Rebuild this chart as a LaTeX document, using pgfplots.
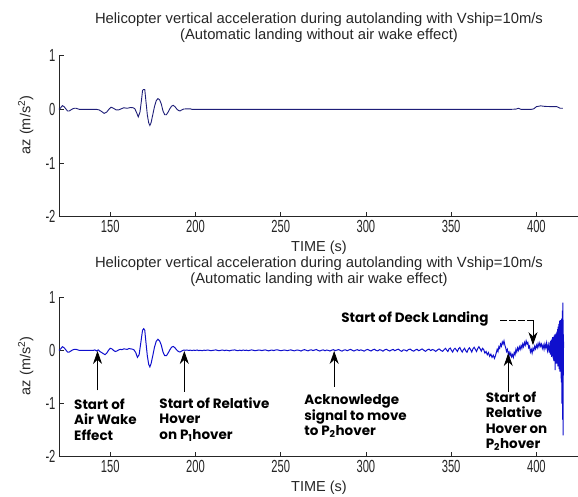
\documentclass[border=0pt]{standalone}
\usepackage{fontspec}
\setmainfont{Liberation Sans}
\newfontfamily\annfont{Poppins}
\usepackage{graphicx}
\usepackage{pgfplots}
\pgfplotsset{compat=1.18}
\usetikzlibrary{arrows.meta}

\definecolor{topblue}{RGB}{30,30,120}
\definecolor{botblue}{RGB}{15,15,205}

\pgfplotsset{
 myaxis/.style={
  scale only axis, width=520pt, xmin=120, xmax=425, ymin=-2, ymax=1,
  axis x line=bottom, axis y line=left,
  axis line style={-, line width=0.7pt, black!85},
  tick align=inside, major tick length=5pt, tick style={black!85, line width=0.7pt},
  xtick={150,200,...,400}, ytick={-2,-1,0,1},
  /pgf/number format/assume math mode=true,
  ticklabel style={font=\fontsize{17.5}{17.5}\selectfont, black!85},
  xticklabel={\scalebox{0.64}[1]{\pgfmathprintnumber{\tick}}},
  yticklabel={\scalebox{0.64}[1]{\pgfmathprintnumber{\tick}}},
  xlabel={TIME (s)}, ylabel={az (m/s\textsuperscript{2})},
  every axis x label/.style={at={(axis description cs:0.5,0)},anchor=center,yshift=-31pt,font=\fontsize{14.5}{14.5}\selectfont, black!85},
  every axis y label/.style={at={(axis description cs:-0.064,0.57)},anchor=center,rotate=90,font=\fontsize{14.5}{14.5}\selectfont, black!85},
  title style={font=\fontsize{14.8}{16}\selectfont, align=center, at={(axis description cs:0.5,1)}, anchor=center, black!85},
  clip=false,
 },
}
\tikzset{
 ann/.style={font=\annfont\bfseries\fontsize{13.5}{15.5}\selectfont, align=left, anchor=north west, inner sep=0pt},
 arr/.style={line width=0.8pt, -{Stealth[length=13pt,width=9pt]}},
}

\begin{document}
\begin{tikzpicture}
\useasboundingbox (0,0) rectangle (578pt,497pt);

% ---------------- top axis ----------------
\begin{axis}[myaxis, at={(59pt,280.3pt)}, anchor=south west, height=161pt,
  title={Helicopter vertical acceleration during autolanding with Vship=10m/s\\(Automatic landing without air wake effect)},
  title style={yshift=21.7pt}]
\addplot[topblue, line width=0.9pt] coordinates {
(120,0) (121,0.03) (122,0.07) (123,0.05) (124,0.01) (125,-0.03) (126,-0.03) (127,-0.01)
(128,0.01) (129,0.02) (130,0.02) (131,0.01) (132,0) (134,0) (136,0) (140,0) (142,0)
(143.5,-0.01) (145,-0.04) (146.5,-0.075) (148,-0.05) (149.5,0.01) (150.5,0.04) (152,0.02)
(153.5,-0.01) (155,-0.01) (156.5,0.01) (158,0.03) (160,0.02) (162,0.035) (163.5,0.03)
(164.5,0.01) (165.5,-0.06) (166.5,-0.14) (167.5,-0.05) (168.3,0.15) (169,0.35) (169.6,0.37)
(170.3,0.37) (171,0.15) (171.8,-0.1) (172.6,-0.25) (173.3,-0.3) (174,-0.25) (175,-0.1)
(176,0.05) (177,0.16) (178,0.2) (179,0.18) (180,0.1) (181,-0.03) (182,-0.1) (183,-0.1)
(184,-0.05) (185,0.01) (186,0.06) (187,0.075) (188,0.05) (189,0.01) (190,-0.02) (191,-0.03)
(192,-0.01) (193,0.005) (195,0.01) (197,0.01) (198,0) (200,0) (385,0) (388,0.005)
(389.5,0.02) (391,0) (397,0) (398.5,0.01) (400,0.05) (402.5,0.065) (405,0.055) (410,0.05)
(412,0.05) (414,0.02) (415.5,0.02)
};
\end{axis}

% ---------------- bottom axis ----------------
\begin{axis}[myaxis, at={(59pt,40.3pt)}, anchor=south west, height=159.4pt,
  title={Helicopter vertical acceleration during autolanding with Vship=10m/s\\(Automatic landing with air wake effect)},
  title style={yshift=19.5pt}]
\addplot[botblue, line width=1pt] coordinates {
(120,0) (121,0.03) (122,0.07) (123,0.05) (124,0.01) (125,-0.03) (126,-0.03) (127,-0.01)
(128,0.01) (129,0.02) (130,0.02) (131,0.01) (132,0) (134,0) (136,0) (138,0) (140,0)
(141,0.01) (142,-0.01) (143,0.01) (144,-0.02) (145,-0.04) (146,-0.06) (147,-0.08) (148,-0.05)
(149,0.0) (150,0.04) (151,0.03) (152,0.0) (153,-0.02) (154,-0.01) (155,0.01) (156,0.02)
(157,0.015) (158,0.03) (159,0.025) (160,0.02) (161,0.035) (162,0.03) (163,0.025) (164,0.01)
(165,-0.04) (166,-0.13) (167,-0.08) (168,0.15) (169,0.38) (169.7,0.41) (170.3,0.38) (171,0.15)
(171.8,-0.1) (172.6,-0.26) (173.3,-0.31) (174,-0.25) (175,-0.1) (176,0.06) (177,0.17)
(178,0.21) (179,0.18) (180,0.1) (181,-0.03) (182,-0.1) (183,-0.1) (184,-0.05) (185,0.01)
(186,0.06) (187,0.075) (188,0.05) (189,0.01) (190,-0.02) (191,-0.03) (192,-0.01) (193,0.005)
(194,0.003) (195,0.008) (196,0) (197,0.005) (198,-0.003) (199,0.005) (200,0) (201,0.008)
(202,-0.003) (203,0.003) (204,-0.005) (205,0.005) (206,0) (207,0.008) (208,0.003) (209,-0.005)
(210,0) (211,0.005) (212,0.01) (213,0) (214,-0.005) (215,0.003) (216,0.008) (217,-0.003)
(218,0.005) (219,0) (220,-0.008) (221,0.003) (222,0.005) (223,0.01) (224,0) (225,-0.005)
(226,0.005) (227,-0.003) (228,0.008) (229,0) (230,0.005) (231,-0.005) (232,0.003) (233,0.01)
(234,0.003) (235,-0.005) (236,0) (237,0.008) (238,0.005) (239,-0.003) (240,0.005) (241,0.01)
(242,0) (243,-0.008) (244,0.003) (245,0.005) (246,-0.003) (247,0.008) (248,0.012) (249,0.003)
(250,-0.005) (251,0) (252,0.008) (253,0.003) (254,-0.005) (255,0.005) (256,0.01) (257,0)
(258,-0.008) (259,0.003) (260,0.008)
(261,0) (262,-0.011) (263,0.006) (264,0.014) (265,0.003) (266,-0.008) (267,0.006) (268,0.011)
(269,-0.003) (270,0.008) (271,0.017) (272,0) (273,-0.011) (274,0.003) (275,0.011) (276,-0.006)
(277,0.008) (278,0) (279,-0.011) (280,0.006) (281,0.014) (282,-0.003) (283,0.006) (284,0.017)
(285,0) (286,-0.014) (287,0.006) (288,0.011) (289,-0.006) (290,0.008) (291,0.019) (292,0.003)
(293,-0.011) (294,0.006) (295,0.014) (296,-0.003) (297,0.011) (298,0) (299,-0.014) (300,0.008)
(301,0.019) (302,0.003) (303,-0.011) (304,0.011) (305,0.022) (306,0) (307,-0.008) (308,0.014)
(309,0.006) (310,-0.014) (311,0.011) (312,0.022) (313,0.003) (314,-0.011) (315,0.008) (316,0.019)
(317,-0.006) (318,0.011) (319,0.025) (320,0) (321,-0.017) (322,0.011) (323,0.006) (324,-0.011)
(325,0.017) (326,0.025) (327,0) (328,-0.014) (329,0.008) (330,0.022) (331,-0.006) (332,0.011)
(333,0.028) (334,0.003) (335,-0.017) (336,0.011) (337,0.025) (338,-0.003) (339,0.017) (340,0.006)
(341,-0.019) (342,0.011) (343,0.028) (344,0) (345,-0.017)
(346,0.02) (346.7,0.04) (347.4,0.005) (348.1,-0.02) (348.8,0.03) (349.5,0.045) (350.2,0)
(350.9,-0.03) (351.6,0.02) (352.3,0.04) (353,0.01) (353.7,-0.02) (354.4,0.035) (355.1,0.055)
(355.8,0.005) (356.5,-0.03) (357.2,0.015) (357.9,0.04) (358.6,-0.01) (359.3,-0.035) (360,0.02)
(360.7,0.05) (361.4,0.015) (362.1,-0.03) (362.8,0.03) (363.5,0.06) (364.2,0.02) (364.9,-0.02)
(365.6,0.035) (366.3,0.07) (367,0.03) (367.7,-0.015) (368.4,0.04) (369.1,0.015) (369.8,-0.05)
(370.5,-0.02) (371.2,-0.08) (371.9,-0.04) (372.6,-0.11) (373.3,-0.07) (374,-0.13) (374.7,-0.09)
(375.4,-0.15) (376,-0.1) (376.5,-0.04) (377,0.02) (377.5,-0.02) (378,0.07) (378.5,0.04)
(379,0.12) (379.5,0.08) (380,0.16) (380.5,0.12) (381,0.18) (381.5,0.1) (382,0.05) (382.5,-0.02)
(383,0.02) (383.5,-0.06) (384,-0.03) (384.5,-0.1) (385,-0.05) (385.5,-0.12) (386,-0.08)
(386.5,-0.13) (387,-0.04) (387.5,-0.08) (388,0.02) (388.5,-0.03) (389,0.05) (389.5,0) (390,0.07)
(390.5,0.02) (391,0.09) (391.5,0.04) (392,0.12) (392.5,0.07) (393,0.15) (393.5,0.1) (394,0.18)
(394.5,0.12) (395,0.15) (395.5,0.05) (396,0.08) (396.5,-0.03) (397,0.02) (397.5,-0.05) (398,0.04)
(398.5,0) (399,0.08) (399.5,0.03) (400,0.1) (400.5,0.05) (401,0.13) (401.5,0.07) (402,0.14)
(402.5,0.08) (403,0.12) (403.5,0.04) (404,0.1) (404.5,0.02) (405,0.12) (405.5,0.05) (406,0.14)
(406.5,0) (407,0.1) (407.5,-0.04) (408,0.15) (408.2,-0.08) (408.4,0.18) (408.6,-0.05) (408.8,0.2)
(409,-0.12) (409.2,0.22) (409.4,-0.1) (409.6,0.25) (409.8,-0.15) (410,0.2) (410.2,-0.2)
(410.4,0.28) (410.6,-0.15) (410.8,0.3) (411,-0.37) (411.2,0.25) (411.4,-0.2) (411.6,0.32)
(411.8,-0.25) (412,0.35) (412.2,-0.15) (412.4,0.4) (412.6,-0.3) (412.8,0.45) (413,-0.2)
(413.2,0.5) (413.4,-0.35) (413.6,0.55) (413.8,-0.4) (414,0.57) (414.2,-0.3) (414.4,0.5)
(414.6,-0.6) (414.8,0.6) (415,-1.0) (415.2,0.75) (415.4,-1.3) (415.6,0.9) (415.7,-1.6)
(415.8,0.3) (416,0.05)
};
% annotations
\draw[arr] (axis cs:142.6,-0.75) -- (axis cs:142.6,-0.01);
\node[ann] at (axis cs:128.8,-0.90) {Start of\\Air Wake\\Effect};
\draw[arr] (axis cs:193.5,-0.78) -- (axis cs:193.5,-0.01);
\node[ann] at (axis cs:178.8,-0.88) {Start of Relative\\Hover\\on P\textsubscript{1}hover};
\draw[arr] (axis cs:281.4,-0.68) -- (axis cs:281.4,-0.01);
\node[ann] at (axis cs:263.8,-0.83) {Acknowledge\\signal to move\\to P\textsubscript{2}hover};
\draw[arr] (axis cs:383.5,-0.78) -- (axis cs:383.5,-0.05);
\node[ann] at (axis cs:370.2,-0.77) {Start of\\Relative\\Hover on\\P\textsubscript{2}hover};
\draw[line width=0.8pt, dash pattern=on 7pt off 2pt] (axis cs:378.8,0.57) -- (axis cs:398,0.57);
\draw[arr] (axis cs:398,0.57) -- (axis cs:398,0.1);
\node[ann, anchor=east] at (axis cs:372,0.59) {Start of Deck Landing};
\end{axis}
\end{tikzpicture}
\end{document}
